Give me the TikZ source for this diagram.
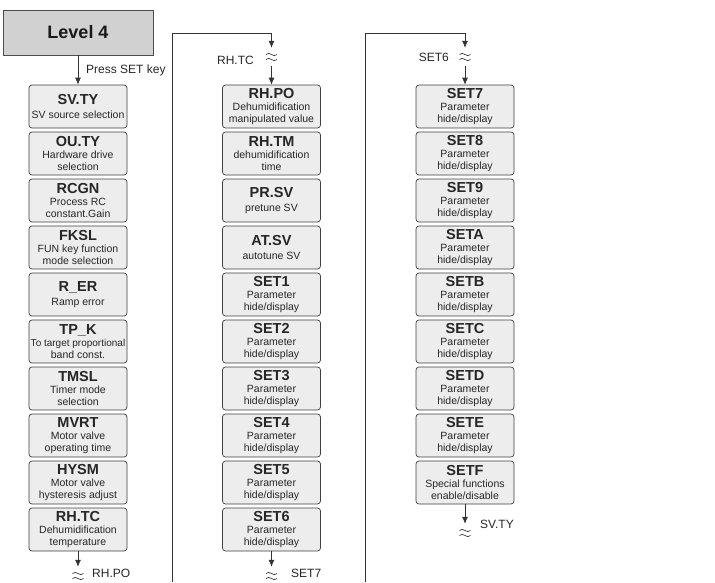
\documentclass[tikz,border=0pt]{standalone}
\usepackage{fontspec}
\setmainfont{Liberation Sans}
\usetikzlibrary{arrows.meta}

\newcommand\ttl[1]{{\fontsize{14.5}{14.5}\selectfont\bfseries #1}}

\begin{document}
\begin{tikzpicture}[
    >={Latex[length=7pt,width=6pt]},
    every node/.style={font=\fontsize{10.5}{11.8}\selectfont, text=black!85},
    level/.style={
        draw=black!70, fill=black!18, line width=0.8pt,
        minimum width=150pt, minimum height=45pt,
        font=\fontsize{18}{20}\selectfont\bfseries, text=black!90
    },
    pbox/.style={
        draw=black!75, fill=black!7, rounded corners=3pt,
        line width=0.7pt, minimum width=98pt, minimum height=43pt,
        inner sep=0pt, align=center
    },
    lbl/.style={font=\fontsize{12}{14}\selectfont, inner sep=0pt},
    brk/.style={minimum width=12pt, minimum height=18pt, inner sep=0pt},
    conn/.style={->, line width=0.7pt, draw=black!80},
    squig/.pic={
        \draw[line width=0.65pt, black!80]
            (-5.5pt,2.5pt) .. controls (-2pt,6.5pt) and (2pt,-1.5pt) .. (5.5pt,2.5pt);
        \draw[line width=0.65pt, black!80]
            (-5.5pt,-2.5pt) .. controls (-2pt,1.5pt) and (2pt,-6.5pt) .. (5.5pt,-2.5pt);
    }
]

\def\cw{193.5pt}
\def\rh{47pt}

\useasboundingbox (-78pt,106.5pt) rectangle (637pt,-475.5pt);

% Kopf
\node[level] (lvl) at (0,74pt) {Level 4};
\node[lbl, anchor=west] (lpress) at (8pt,36.5pt) {Press SET key};

% Spalte 1
\node[pbox] (svty) at (0,0)         {\ttl{SV.TY}\\[2pt]SV source selection};
\node[pbox] (outy) at (0,-1*\rh)    {\ttl{OU.TY}\\Hardware drive\\selection};
\node[pbox] (rcgn) at (0,-2*\rh)    {\ttl{RCGN}\\Process RC\\constant.Gain};
\node[pbox] (fksl) at (0,-3*\rh)    {\ttl{FKSL}\\FUN key function\\mode selection};
\node[pbox] (rer)  at (0,-4*\rh)    {\ttl{R\_ER}\\[2pt]Ramp error};
\node[pbox] (tpk)  at (0,-5*\rh)
    {\ttl{TP\_K}\\{\fontsize{10}{11.8}\selectfont To target proportional}\\band const.};
\node[pbox] (tmsl) at (0,-6*\rh)    {\ttl{TMSL}\\Timer mode\\selection};
\node[pbox] (mvrt) at (0,-7*\rh)    {\ttl{MVRT}\\Motor valve\\operating time};
\node[pbox] (hysm) at (0,-8*\rh)    {\ttl{HYSM}\\Motor valve\\hysteresis adjust};
\node[pbox] (rhtc) at (0,-9*\rh)    {\ttl{RH.TC}\\Dehumidification\\temperature};

% Spalte 2
\node[pbox] (rhpo) at (\cw,0)       {\ttl{RH.PO}\\Dehumidification\\manipulated value};
\node[pbox] (rhtm) at (\cw,-1*\rh)  {\ttl{RH.TM}\\dehumidification\\time};
\node[pbox] (prsv) at (\cw,-2*\rh)  {\ttl{PR.SV}\\[2pt]pretune SV};
\node[pbox] (atsv) at (\cw,-3*\rh)  {\ttl{AT.SV}\\[2pt]autotune SV};
\node[pbox] (set1) at (\cw,-4*\rh)  {\ttl{SET1}\\Parameter\\hide/display};
\node[pbox] (set2) at (\cw,-5*\rh)  {\ttl{SET2}\\Parameter\\hide/display};
\node[pbox] (set3) at (\cw,-6*\rh)  {\ttl{SET3}\\Parameter\\hide/display};
\node[pbox] (set4) at (\cw,-7*\rh)  {\ttl{SET4}\\Parameter\\hide/display};
\node[pbox] (set5) at (\cw,-8*\rh)  {\ttl{SET5}\\Parameter\\hide/display};
\node[pbox] (set6) at (\cw,-9*\rh)  {\ttl{SET6}\\Parameter\\hide/display};

% Spalte 3
\node[pbox] (set7) at (2*\cw,0)       {\ttl{SET7}\\Parameter\\hide/display};
\node[pbox] (set8) at (2*\cw,-1*\rh)  {\ttl{SET8}\\Parameter\\hide/display};
\node[pbox] (set9) at (2*\cw,-2*\rh)  {\ttl{SET9}\\Parameter\\hide/display};
\node[pbox] (seta) at (2*\cw,-3*\rh)  {\ttl{SETA}\\Parameter\\hide/display};
\node[pbox] (setb) at (2*\cw,-4*\rh)  {\ttl{SETB}\\Parameter\\hide/display};
\node[pbox] (setc) at (2*\cw,-5*\rh)  {\ttl{SETC}\\Parameter\\hide/display};
\node[pbox] (setd) at (2*\cw,-6*\rh)  {\ttl{SETD}\\Parameter\\hide/display};
\node[pbox] (sete) at (2*\cw,-7*\rh)  {\ttl{SETE}\\Parameter\\hide/display};
\node[pbox] (setf) at (2*\cw,-8*\rh)  {\ttl{SETF}\\Special functions\\enable/disable};

% Unterbrechungen
\node[brk] (kb1) at (0,-469.5pt) {};
\node[brk] (kt2) at (\cw,49.5pt) {};
\node[brk] (kb2) at (\cw,-469.5pt) {};
\node[brk] (kt3) at (2*\cw,49.5pt) {};
\node[brk] (kb3) at (2*\cw,-426.5pt) {};
\pic at (kb1) {squig};
\pic at (kt2) {squig};
\pic at (kb2) {squig};
\pic at (kt3) {squig};
\pic at (kb3) {squig};

% Sprungmarken
\node[lbl, anchor=west] (lrhpo) at (14pt,-466.5pt) {RH.PO};
\node[lbl, anchor=east] (lrhtc) at (176pt,46.5pt) {RH.TC};
\node[lbl, anchor=west] (lset7) at (213pt,-467pt) {SET7};
\node[lbl, anchor=east] (lset6) at (371pt,49.5pt) {SET6};
\node[lbl, anchor=west] (lsvty) at (402pt,-417.5pt) {SV.TY};

% Ruecklaeufe
\coordinate (l2) at (94pt,-475.5pt);
\coordinate (t2) at (\cw,73pt);
\coordinate (l3) at (287pt,-475.5pt);
\coordinate (t3) at (2*\cw,73pt);

% Verbindungen
\draw[conn] (lvl) -- (svty);
\draw[conn] (rhtc) -- (kb1);
\draw[conn] (l2) |- (t2) -- (kt2);
\draw[conn] (kt2) -- (rhpo);
\draw[conn] (set6) -- (kb2);
\draw[conn] (l3) |- (t3) -- (kt3);
\draw[conn] (kt3) -- (set7);
\draw[conn] (setf) -- (kb3);

\end{tikzpicture}
\end{document}
